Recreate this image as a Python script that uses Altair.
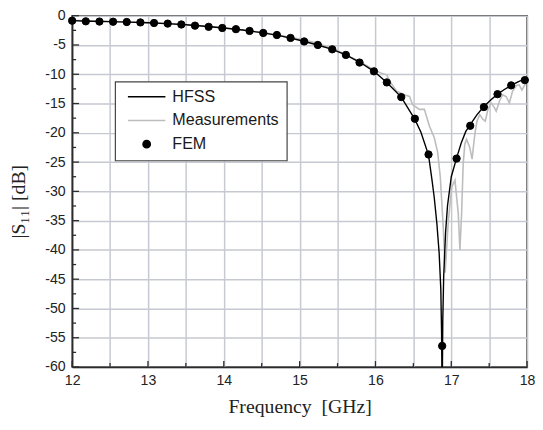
import altair as alt
import pandas as pd

# ---------------- data ----------------
SERIES = ["HFSS", "Measurements", "FEM"]

HFSS_GHZ = [12.0, 12.25, 12.5, 12.75, 13.0, 13.25, 13.5, 13.75, 14.0, 14.25,
            14.5, 14.75, 15.0, 15.25, 15.43, 15.61, 15.8, 15.98, 16.15, 16.34,
            16.52, 16.6, 16.7, 16.745, 16.775, 16.81, 16.84, 16.862, 16.872, 16.88,
            16.888, 16.9, 16.925, 16.95, 17.0, 17.066, 17.13, 17.19, 17.25, 17.34,
            17.43, 17.52, 17.61, 17.7, 17.79, 17.88, 17.97, 18.0]
HFSS_DB = [-0.85, -0.95, -1.02, -1.1, -1.2, -1.35, -1.55, -1.8, -2.1, -2.45,
           -2.9, -3.45, -4.2, -5.05, -5.75, -6.7, -8.0, -9.5, -11.4, -13.9,
           -17.7, -19.9, -23.8, -28.0, -31.0, -35.5, -40.5, -46.7, -54.0, -66.0,
           -52.0, -44.5, -37.0, -32.5, -27.5, -24.5, -21.8, -19.8, -18.6, -16.9,
           -15.5, -14.4, -13.4, -12.6, -11.9, -11.3, -10.8, -10.6]

MEAS_GHZ = [12.0, 12.5, 13.0, 13.5, 14.0, 14.5, 15.0, 15.2, 15.35, 15.5,
            15.65, 15.8, 15.95, 16.08, 16.15, 16.19, 16.28, 16.38, 16.45, 16.49,
            16.58, 16.645, 16.71, 16.775, 16.82, 16.855, 16.896, 16.919, 16.962, 17.006,
            17.049, 17.092, 17.114, 17.136, 17.157, 17.179, 17.201, 17.244, 17.274, 17.31,
            17.339, 17.375, 17.418, 17.449, 17.483, 17.527, 17.57, 17.592, 17.635, 17.678,
            17.723, 17.766, 17.808, 17.861, 17.896, 17.931, 17.983, 18.0]
MEAS_DB = [-0.8, -1.0, -1.18, -1.5, -2.05, -2.85, -4.0, -4.6, -5.2, -6.0,
           -6.9, -7.9, -9.0, -9.85, -10.1, -11.25, -12.9, -13.5, -13.8, -15.2,
           -16.0, -16.0, -18.8, -20.8, -23.3, -27.5, -36.6, -43.9, -34.9, -29.3,
           -28.1, -33.8, -40.0, -33.8, -25.3, -21.9, -21.1, -22.5, -24.5, -20.3,
           -18.0, -16.9, -17.7, -18.0, -16.0, -14.9, -15.75, -16.3, -14.6, -13.5,
           -13.8, -14.9, -12.9, -11.9, -11.8, -12.7, -11.5, -11.3]

FEM_GHZ = [12.00, 12.18, 12.36, 12.54, 12.72, 12.90, 13.08, 13.26, 13.44, 13.62,
           13.80, 13.98, 14.16, 14.34, 14.52, 14.70, 14.88, 15.06, 15.24, 15.43,
           15.61, 15.79, 15.98, 16.15, 16.34, 16.52, 16.70, 16.88, 17.07, 17.25,
           17.43, 17.61, 17.79, 17.97]
FEM_DB = [-0.85, -0.96, -1.0, -1.03, -1.08, -1.15, -1.25, -1.35, -1.5, -1.7,
          -1.9, -2.1, -2.3, -2.6, -2.95, -3.3, -3.8, -4.4, -5.0, -5.74,
          -6.7, -8.0, -9.5, -11.4, -13.9, -17.6, -23.7, -56.4, -24.4, -18.8,
          -15.6, -13.4, -11.9, -11.0]

X_GRID = [12, 12.5, 13, 13.5, 14, 14.5, 15, 15.5, 16, 16.5, 17, 17.5, 18]
Y_GRID = [-60, -55, -50, -45, -40, -35, -30, -25, -20, -15, -10, -5, 0]
X_TICKS_MAJOR = [12, 13, 14, 15, 16, 17, 18]
X_TICKS_MINOR = [12.5, 13.5, 14.5, 15.5, 16.5, 17.5]
Y_TICKS_MAJOR = [-60, -55, -50, -45, -40, -35, -30, -25, -20, -15, -10, -5, 0]
Y_TICKS_MINOR = [-57.5, -52.5, -47.5, -42.5, -37.5, -32.5, -27.5, -22.5, -17.5,
                 -12.5, -7.5, -2.5]

# ---------------- tables ----------------
hfss_df = pd.DataFrame({"f": HFSS_GHZ, "db": HFSS_DB})
meas_df = pd.DataFrame({"f": MEAS_GHZ, "db": MEAS_DB})
fem_df = pd.DataFrame({"f": FEM_GHZ, "db": FEM_DB, "series": "FEM"})

W, H = 461, 356
DARK = "#2b2b2b"
GRAY = "#bdbdbd"

x_scale = alt.Scale(domain=[12, 18], nice=False, zero=False)
y_scale = alt.Scale(domain=[-60, 0], nice=False, zero=False)

x_axis = alt.Axis(values=X_GRID, tickCount=13,
                  labelExpr="datum.value % 1 === 0 ? format(datum.value, 'd') : ''",
                  title="Frequency\u00a0\u00a0[GHz]", grid=True, ticks=False,
                  labelPadding=7, labelFlush=False, labelOverlap=False,
                  titleY=46, titleBaseline="alphabetic")
y_axis = alt.Axis(values=Y_GRID, tickCount=13,
                  labelExpr="datum.value < 0 ? '-' + format(-datum.value, 'd') : format(datum.value, 'd')",
                  title="|S\u2081\u2081| [dB]", grid=True, ticks=False,
                  labelPadding=7, labelFlush=False, labelOverlap=False,
                  titleX=-54, titleY=188, titleAngle=270,
                  titleBaseline="middle", titleAlign="center")

X = alt.X("f:Q", scale=x_scale, axis=x_axis)
Y = alt.Y("db:Q", scale=y_scale, axis=y_axis)

meas = alt.Chart(meas_df).mark_line(color=GRAY, strokeWidth=1.6).encode(x=X, y=Y)
hfss = alt.Chart(hfss_df).mark_line(color="black", strokeWidth=1.4, clip=True).encode(x=X, y=Y)

xt_major = alt.Chart(pd.DataFrame({"f": X_TICKS_MAJOR})).mark_rule(
    color=DARK, strokeWidth=1.3).encode(x=X, y=alt.value(H), y2=alt.value(H - 6))
xt_minor = alt.Chart(pd.DataFrame({"f": X_TICKS_MINOR})).mark_rule(
    color=DARK, strokeWidth=1.3).encode(x=X, y=alt.value(H), y2=alt.value(H - 4))
yt_major = alt.Chart(pd.DataFrame({"db": Y_TICKS_MAJOR})).mark_rule(
    color=DARK, strokeWidth=1.3).encode(y=Y, x=alt.value(0), x2=alt.value(7))
yt_minor = alt.Chart(pd.DataFrame({"db": Y_TICKS_MINOR})).mark_rule(
    color=DARK, strokeWidth=1.3).encode(y=Y, x=alt.value(0), x2=alt.value(4))

legend = alt.Legend(title=None, orient="none", legendX=43.5, legendY=66.7,
                    direction="vertical", fillColor="white", strokeColor="#444",
                    padding=8, symbolOffset=4, labelOffset=6, rowPadding=7,
                    clipHeight=15, labelFont="Liberation Sans", labelFontSize=16.3,
                    labelColor="#1a1a1a", symbolStrokeWidth=1.5, symbolOpacity=1)

fem = alt.Chart(fem_df).mark_point(filled=True, opacity=1, strokeWidth=1).encode(
    x=X, y=Y,
    fill=alt.Fill("series:N", scale=alt.Scale(domain=SERIES, range=["black", GRAY, "black"]),
                  legend=legend),
    stroke=alt.Stroke("series:N", scale=alt.Scale(domain=SERIES, range=["black", GRAY, "black"]),
                      legend=legend),
    shape=alt.Shape("series:N", scale=alt.Scale(domain=SERIES, range=["stroke", "stroke", "circle"]),
                    legend=legend),
    size=alt.Size("series:N", scale=alt.Scale(type="ordinal", domain=SERIES,
                                              range=[1444, 1444, 55]),
                  legend=legend),
)

chart = alt.layer(meas, hfss, xt_major, xt_minor, yt_major, yt_minor, fem).properties(
    width=W, height=H,
    padding={"left": 65, "top": 5, "right": 8, "bottom": 60},
    autosize=alt.AutoSizeParams(type="none"),
).configure_view(
    stroke=DARK, strokeWidth=1.5
).configure_axis(
    domainColor=DARK, domainWidth=1.5,
    gridColor="#c6c9d1", gridWidth=1.5, gridOpacity=1,
    labelFont="Liberation Sans", labelFontSize=14.3, labelColor="#222",
    titleFont="Liberation Serif", titleFontSize=20, titleFontWeight="normal",
    titleColor="#222",
).configure_legend(strokeWidth=1.2)

chart.save("out.html", embed_options={"renderer": "svg", "actions": False})
